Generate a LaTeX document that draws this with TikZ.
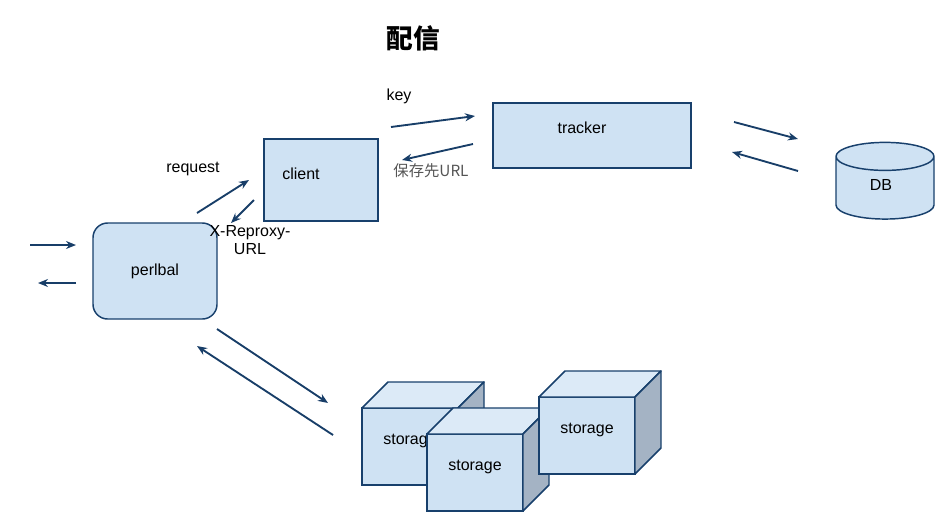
\documentclass[tikz,border=0pt]{standalone}
\usepackage{fontspec}
\setmainfont{Liberation Sans}
\newfontfamily\cjk{Noto Sans CJK SC}
\usetikzlibrary{shapes.geometric,arrows.meta}
\definecolor{boxblue}{RGB}{207,226,243}
\definecolor{topblue}{RGB}{220,234,247}
\definecolor{sidegrey}{RGB}{164,179,196}
\definecolor{edgeblue}{RGB}{24,64,108}
\definecolor{arrowblue}{RGB}{24,62,104}
\definecolor{urlgrey}{RGB}{85,85,85}

\begin{document}
\begin{tikzpicture}[x=0.75pt,y=-0.75pt,>={Stealth[length=7.5pt,width=6pt]},line width=1.1pt,
  lbl/.style={font=\fontsize{12}{13}\selectfont},
  box/.style={draw=edgeblue,fill=boxblue,outer sep=0pt,lbl},
  front/.style={box,minimum width=72pt,minimum height=57.75pt,label={[lbl,yshift=4.5pt]center:#1}},
  face/.style={draw=edgeblue,fill=#1,line join=round},
  flow/.style={->,draw=arrowblue,line width=1.4pt}]

\useasboundingbox (0,0) rectangle (945,529);

% title
\node[font=\cjk\bfseries\fontsize{20}{22}\selectfont] (title) at (413,38) {配信};

% boxes
\node[box,rounded corners=11pt,minimum width=93pt,minimum height=72pt] (perlbal) at (155,271) {perlbal};
\node[box,minimum width=85.5pt,minimum height=61.5pt,label={[lbl,xshift=-15pt,yshift=5pt]center:client}] (client) at (321,180) {};
\node[box,minimum width=148.5pt,minimum height=48.75pt,label={[lbl,xshift=-7.5pt,yshift=6pt]center:tracker}] (tracker) at (592,135.5) {};
\node[box,cylinder,shape border rotate=90,aspect=0.9,minimum width=73.5pt,minimum height=57.5pt,
      cylinder uses custom fill,cylinder end fill=topblue,cylinder body fill=boxblue,
      label={[lbl,xshift=-3pt,yshift=4.5pt]center:DB}] (db) at (885,191) {\phantom{DB}};

% storage cubes
\node[front=storage] (st1) at (410,446.5) {};
\draw[face=topblue] (st1.north west) -- ++(26,-26) -- ++(96,0) -- (st1.north east) -- cycle;
\draw[face=sidegrey] (st1.north east) -- ++(26,-26) -- ++(0,77) -- (st1.south east) -- cycle;
\node[front=storage] (st2) at (475,472.5) {};
\draw[face=topblue] (st2.north west) -- ++(26,-26) -- ++(96,0) -- (st2.north east) -- cycle;
\draw[face=sidegrey] (st2.north east) -- ++(26,-26) -- ++(0,77) -- (st2.south east) -- cycle;
\node[front=storage] (st3) at (587,435.5) {};
\draw[face=topblue] (st3.north west) -- ++(26,-26) -- ++(96,0) -- (st3.north east) -- cycle;
\draw[face=sidegrey] (st3.north east) -- ++(26,-26) -- ++(0,77) -- (st3.south east) -- cycle;

% labels
\node[lbl] (key) at (399,96) {key};
\node[lbl] (request) at (193,169) {request};
\node[lbl,align=center] (xreproxy) at (250,240) {X-Reproxy-\\URL};
\node[font=\cjk\fontsize{11.5}{12}\selectfont,text=urlgrey] (saveurl) at (431,171) {保存先URL};

% arrow ends
\coordinate (in s) at (30,245);   \coordinate (in e) at (76,245);
\coordinate (out s) at (76,283);  \coordinate (out e) at (38,283);
\coordinate (req s) at (197,213); \coordinate (req e) at (249,180);
\coordinate (xr s) at (254,200);  \coordinate (xr e) at (231,223);
\coordinate (key s) at (391,127); \coordinate (key e) at (475,116);
\coordinate (url s) at (473,144); \coordinate (url e) at (402,160);
\coordinate (q s) at (734,122);   \coordinate (q e) at (798,139);
\coordinate (a s) at (798,171);   \coordinate (a e) at (732,152);
\coordinate (get s) at (217,329); \coordinate (get e) at (328,403);
\coordinate (ret s) at (333,435); \coordinate (ret e) at (197,346);

\path[every edge/.style={flow}]
        (in s) edge (in e)
        (out s) edge (out e)
        (req s) edge (req e)
        (xr s) edge (xr e)
        (key s) edge (key e)
        (url s) edge (url e)
        (q s) edge (q e)
        (a s) edge (a e)
        (get s) edge (get e)
        (ret s) edge (ret e)
    ;
\end{tikzpicture}
\end{document}
